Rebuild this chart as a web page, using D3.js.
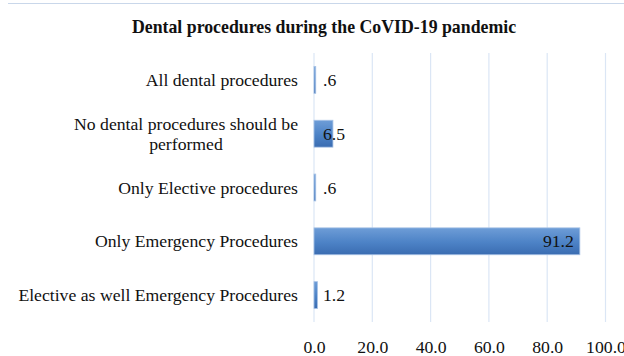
<!DOCTYPE html>
<html>
<head>
<meta charset="utf-8">
<script src="https://cdn.jsdelivr.net/npm/d3@7"></script>
<style>
  html, body { margin: 0; padding: 0; background: #fff; }
  svg { display: block; }
  text { font-family: "Liberation Serif", "Times New Roman", serif; fill: #111; }
</style>
</head>
<body>
<svg id="chart" width="624" height="356"></svg>
<script>
// Responses: which dental procedures should be performed during the pandemic (%)
const categories = [
  ["All dental procedures"],
  ["No dental procedures should be", "performed"],
  ["Only Elective procedures"],
  ["Only Emergency Procedures"],
  ["Elective as well Emergency Procedures"]
];
const percentages = [0.6, 6.5, 0.6, 91.2, 1.2];
const tickValues = [0, 20, 40, 60, 80, 100];
const chartTitle = "Dental procedures during the CoVID-19 pandemic";

const svg = d3.select("#chart");
const W = 624, H = 356;
const margin = { top: 53, right: 18, bottom: 34, left: 314 };
const innerW = 605.5 - margin.left;
const innerH = 322 - margin.top;
const FS = 17.7;

// Frame line across the top
svg.append("line")
  .attr("x1", 8).attr("x2", W).attr("y1", 3.5).attr("y2", 3.5)
  .attr("stroke", "#c9d7ea").attr("stroke-width", 1);

svg.append("text")
  .attr("x", 324).attr("y", 33)
  .attr("text-anchor", "middle")
  .attr("font-size", 17.8).attr("font-weight", "bold")
  .text(chartTitle);

const defs = svg.append("defs");
const grad = defs.append("linearGradient")
  .attr("id", "barFill").attr("x1", 0).attr("y1", 0).attr("x2", 0).attr("y2", 1);
grad.append("stop").attr("offset", "0%").attr("stop-color", "#6e9dd7");
grad.append("stop").attr("offset", "55%").attr("stop-color", "#4c82c6");
grad.append("stop").attr("offset", "100%").attr("stop-color", "#3a6cb1");

const g = svg.append("g").attr("transform", `translate(${margin.left},${margin.top})`);

const x = d3.scaleLinear().domain([0, 100]).range([0, innerW]);
const y = d3.scaleBand().domain(d3.range(categories.length)).range([0, innerH]).paddingInner(0.5).paddingOuter(0.25);

// Vertical gridlines
g.append("g").selectAll("line").data(tickValues).join("line")
  .attr("x1", d => x(d)).attr("x2", d => x(d))
  .attr("y1", 0).attr("y2", innerH)
  .attr("stroke", "#dbe6f5").attr("stroke-width", 1.2);

// X axis tick labels
const xAxis = d3.axisBottom(x).tickValues(tickValues).tickFormat(d3.format(".1f")).tickSize(0).tickPadding(18);
const axG = g.append("g").attr("transform", `translate(0,${innerH})`).call(xAxis);
axG.select(".domain").remove();
axG.selectAll("text").attr("font-size", FS).attr("font-family", "Liberation Serif, serif").attr("fill", "#111");

// Bars
g.append("g").selectAll("rect").data(percentages).join("rect")
  .attr("x", x(0))
  .attr("y", (d, i) => y(i))
  .attr("width", d => x(d) - x(0))
  .attr("height", y.bandwidth())
  .attr("fill", "url(#barFill)")
  .attr("stroke", "#a9c3e6").attr("stroke-width", 0.8);

// Value labels
const fmt = v => { const s = d3.format(".1f")(v); return v < 1 ? s.replace(/^0/, "") : s; };
g.append("g").selectAll("text").data(percentages).join("text")
  .attr("x", d => d > 50 ? x(d) - 6 : 9)
  .attr("y", (d, i) => y(i) + y.bandwidth() / 2)
  .attr("dy", "0.35em")
  .attr("text-anchor", d => d > 50 ? "end" : "start")
  .attr("font-size", FS)
  .text(fmt);

// Category labels
const lab = svg.append("g");
categories.forEach((lines, i) => {
  const cy = margin.top + y(i) + y.bandwidth() / 2;
  const lh = 20;
  const t = lab.append("text")
    .attr("font-size", FS)
    .attr("text-anchor", lines.length > 1 ? "middle" : "end");
  const widest = lines.length > 1 ? 224 : 0;
  lines.forEach((ln, k) => {
    t.append("tspan")
      .attr("x", lines.length > 1 ? 298 - widest / 2 : 298)
      .attr("y", cy + (k - (lines.length - 1) / 2) * lh)
      .attr("dy", "0.35em")
      .text(ln);
  });
});
</script>
</body>
</html>
